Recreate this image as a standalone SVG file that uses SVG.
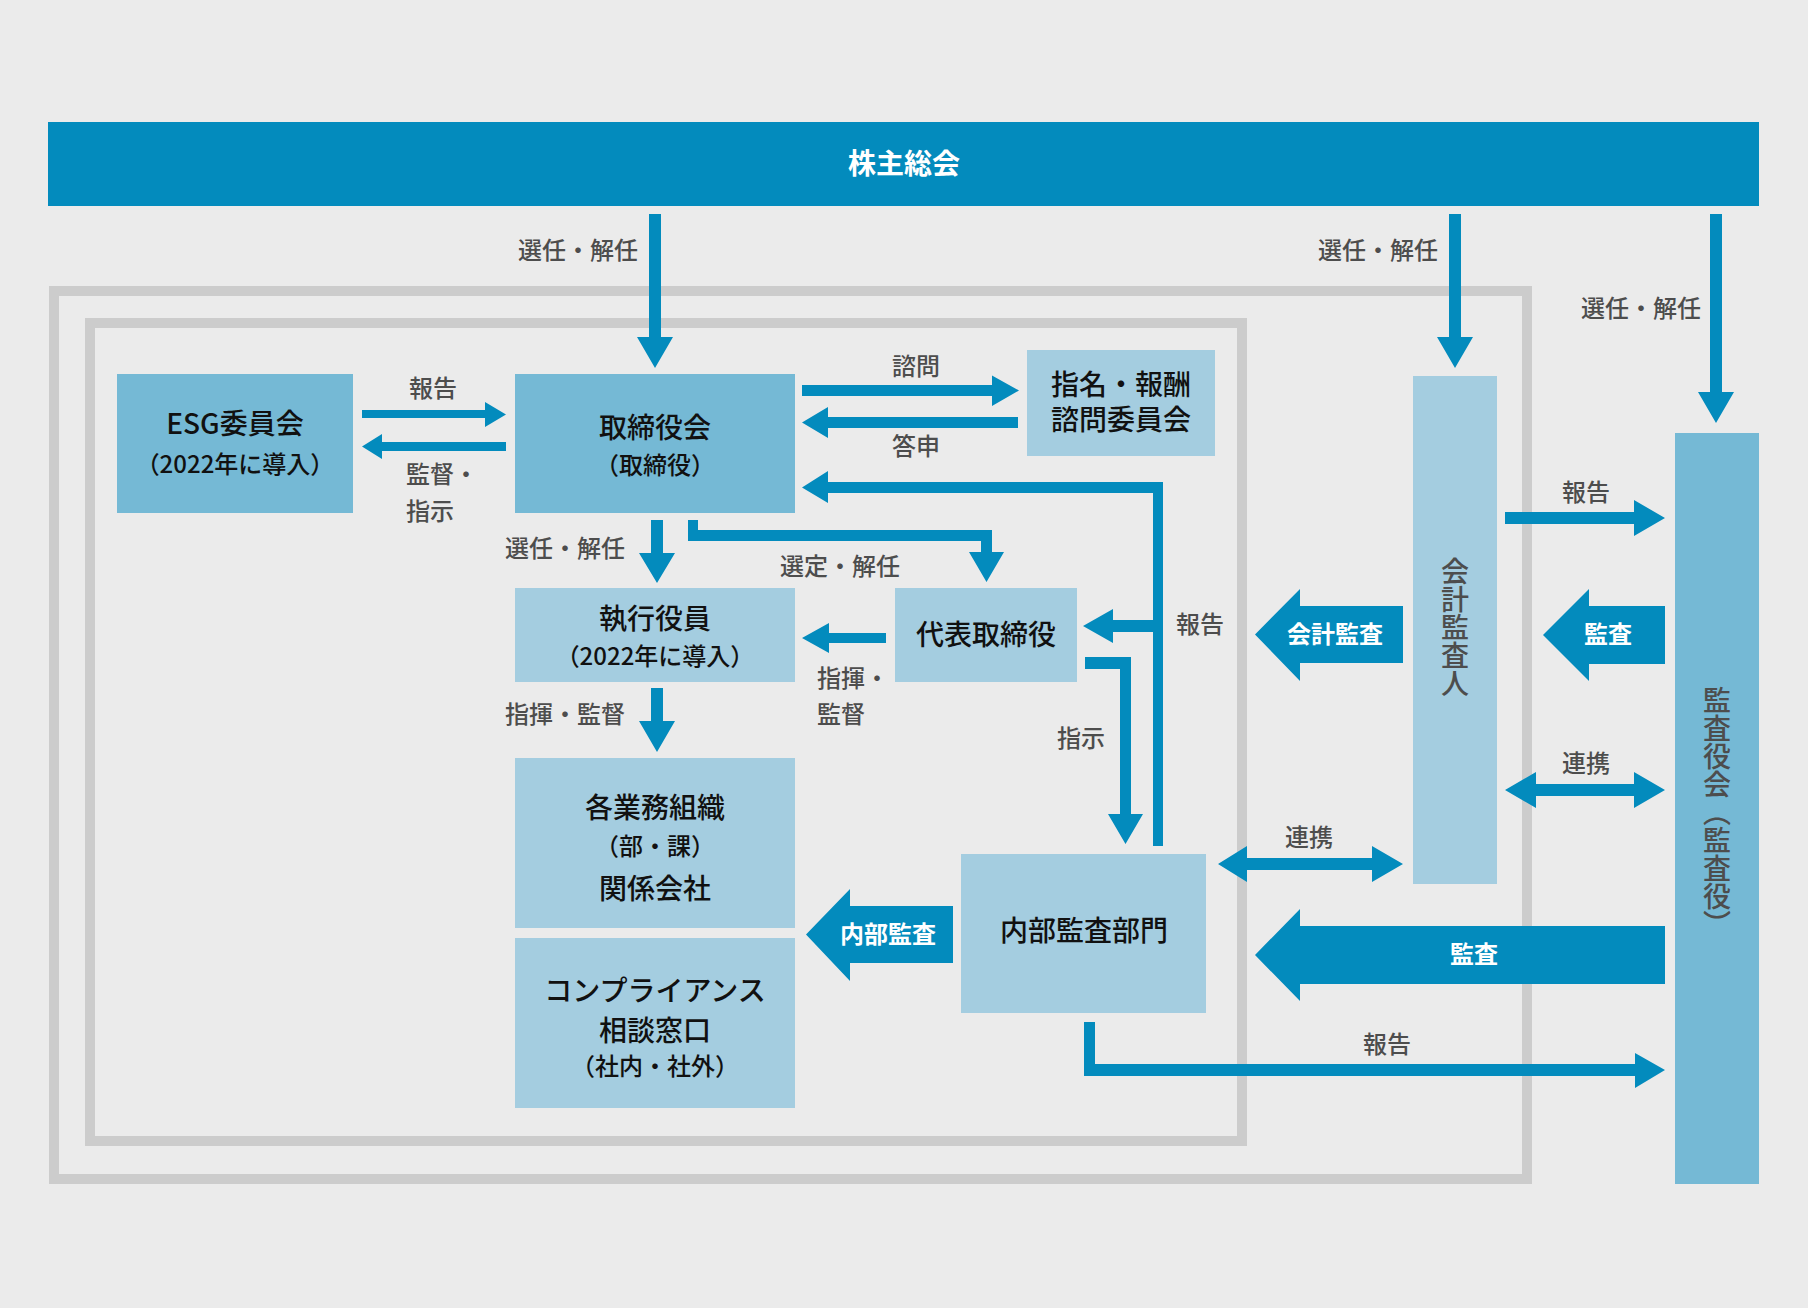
<svg xmlns="http://www.w3.org/2000/svg" width="1808" height="1308" viewBox="0 0 1808 1308">
<style>
text{font-family:"Noto Sans CJK JP","Noto Sans",sans-serif;dominant-baseline:central;text-anchor:middle}
.bg{fill:#ebebeb}
.frame{fill:none;stroke:#cccccc;stroke-width:10}
.mid{fill:#75b9d5}
.light{fill:#a4cde0}
.arr{fill:#038bbd}
.t{font-size:28px;font-weight:500;fill:#111}
.s{font-size:24px;font-weight:500;fill:#111}
.lb{font-size:24px;fill:#4d4d4d;font-weight:500}
.w{font-size:24px;fill:#fff;font-weight:700}
.v{font-size:28px;fill:#4d4d4d;font-weight:500;writing-mode:vertical-rl}
</style>
<rect class="bg" x="0" y="0" width="1808" height="1308"/>
<g id="frames">
<rect class="frame" x="54" y="291" width="1473" height="888"/>
<rect class="frame" x="90" y="323" width="1152" height="818"/>
</g>
<g id="shareholders">
<rect x="48" y="122" width="1711" height="84" fill="#038bbd"/>
<text x="904" y="162" font-size="28" font-weight="700" fill="#fff">株主総会</text>
</g>
<g id="esg">
<rect class="mid" x="117" y="374" width="236" height="139"/>
<text class="t" x="235" y="422">ESG委員会</text>
<text class="s" x="235" y="462">（2022年に導入）</text>
</g>
<g id="board">
<rect class="mid" x="515" y="374" width="280" height="139"/>
<text class="t" x="655" y="426">取締役会</text>
<text class="s" x="655" y="463">（取締役）</text>
</g>
<g id="nomination">
<rect class="light" x="1027" y="350" width="188" height="106"/>
<text class="t" x="1121" y="383">指名・報酬</text>
<text class="t" x="1121" y="418">諮問委員会</text>
</g>
<g id="officers">
<rect class="light" x="515" y="588" width="280" height="94"/>
<text class="t" x="655" y="617">執行役員</text>
<text class="s" x="655" y="654">（2022年に導入）</text>
</g>
<g id="representative">
<rect class="light" x="895" y="588" width="182" height="94"/>
<text class="t" x="986" y="633">代表取締役</text>
</g>
<g id="business">
<rect class="light" x="515" y="758" width="280" height="170"/>
<text class="t" x="655" y="806">各業務組織</text>
<text class="s" x="655" y="844">（部・課）</text>
<text class="t" x="655" y="887">関係会社</text>
</g>
<g id="compliance">
<rect class="light" x="515" y="938" width="280" height="170"/>
<text class="t" x="655" y="989">コンプライアンス</text>
<text class="t" x="655" y="1029">相談窓口</text>
<text class="s" x="655" y="1064">（社内・社外）</text>
</g>
<g id="internal-audit">
<rect class="light" x="961" y="854" width="245" height="159"/>
<text class="t" x="1084" y="929">内部監査部門</text>
</g>
<g id="accounting-auditor">
<rect class="light" x="1413" y="376" width="84" height="508"/>
<text class="v" x="1455" y="627">会計監査人</text>
</g>
<g id="audit-board">
<rect class="mid" x="1675" y="433" width="84" height="751"/>
<text class="v" x="1717" y="812">監査役会（監査役）</text>
</g>
<g id="connectors">
<polygon class="arr" points="649,214 661,214 661,337 673,337 655,368 637,337 649,337"/>
<polygon class="arr" points="1449,214 1461,214 1461,337 1473,337 1455,368 1437,337 1449,337"/>
<polygon class="arr" points="1710,214 1722,214 1722,392 1734,392 1716,423 1698,392 1710,392"/>
<polygon class="arr" points="362,410 485,410 485,402 506,414.5 485,427 485,418 362,418"/>
<polygon class="arr" points="506,442 382,442 382,434 362,446.5 382,459 382,451 506,451"/>
<polygon class="arr" points="802,385 992,385 992,375.5 1019,390.5 992,406 992,396 802,396"/>
<polygon class="arr" points="1018,417 828,417 828,407 802,422.5 828,438 828,428 1018,428"/>
<polygon class="arr" points="1153,846 1163,846 1163,482 828,482 828,471 802,487.5 828,503 828,493 1153,493"/>
<polygon class="arr" points="1153,620 1113,620 1113,609 1083,626 1113,643 1113,632 1153,632"/>
<polygon class="arr" points="651,520 663,520 663,553 675,553 657,583 639,553 651,553"/>
<path class="arr" d="M688,520 H698 V530 H992 V552 H1004 L986.5,582 L969,552 H981 V541 H688 Z"/>
<polygon class="arr" points="886,633 829,633 829,623 802,638 829,653 829,643 886,643"/>
<polygon class="arr" points="651,688 663,688 663,721 675,721 657,752 639,721 651,721"/>
<path class="arr" d="M1085,657 H1131 V814 H1143 L1125.5,844 L1108,814 H1120 V669 H1085 Z"/>
<polygon class="arr" points="953,906 850,906 850,889 806,934.5 850,981 850,963 953,963"/>
<polygon class="arr" points="1403,606 1300,606 1300,589 1255,634.5 1300,681 1300,663 1403,663"/>
<polygon class="arr" points="1665,606 1589,606 1589,589 1543,635 1589,681 1589,664 1665,664"/>
<polygon class="arr" points="1665,926 1300,926 1300,909 1255,955 1300,1001 1300,984 1665,984"/>
<polygon class="arr" points="1505,512 1634,512 1634,500 1665,518 1634,536 1634,524 1505,524"/>
<polygon class="arr" points="1505,790 1536,772 1536,784 1634,784 1634,772 1665,790 1634,808 1634,796 1536,796 1536,808"/>
<polygon class="arr" points="1218,864 1247,846 1247,858 1372,858 1372,846 1403,864 1372,882 1372,870 1247,870 1247,882"/>
<path class="arr" d="M1084,1022 H1095 V1064 H1635 V1053 L1665,1070 L1635,1088 V1076 H1084 Z"/>
<text class="w" x="888" y="932">内部監査</text>
<text class="w" x="1335" y="632">会計監査</text>
<text class="w" x="1608" y="632">監査</text>
<text class="w" x="1474" y="952">監査</text>
<text class="lb" x="578" y="248">選任・解任</text>
<text class="lb" x="1378" y="248">選任・解任</text>
<text class="lb" x="1641" y="306">選任・解任</text>
<text class="lb" x="433" y="386">報告</text>
<text class="lb" x="406" y="472" style="text-anchor:start">監督・</text>
<text class="lb" x="406" y="509" style="text-anchor:start">指示</text>
<text class="lb" x="916" y="364">諮問</text>
<text class="lb" x="916" y="444">答申</text>
<text class="lb" x="565" y="546">選任・解任</text>
<text class="lb" x="840" y="564">選定・解任</text>
<text class="lb" x="1200" y="622">報告</text>
<text class="lb" x="817" y="676" style="text-anchor:start">指揮・</text>
<text class="lb" x="817" y="712" style="text-anchor:start">監督</text>
<text class="lb" x="565" y="712">指揮・監督</text>
<text class="lb" x="1081" y="736">指示</text>
<text class="lb" x="1586" y="490">報告</text>
<text class="lb" x="1586" y="761">連携</text>
<text class="lb" x="1309" y="835">連携</text>
<text class="lb" x="1387" y="1042">報告</text>
</g>
</svg>
